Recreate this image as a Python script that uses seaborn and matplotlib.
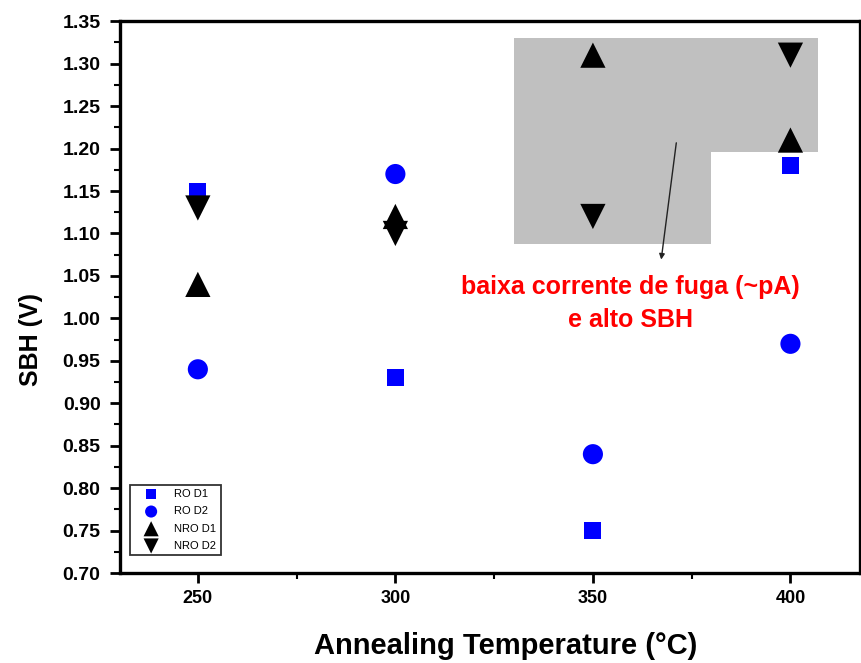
import matplotlib
matplotlib.use('Agg')
import matplotlib.pyplot as plt
from matplotlib.ticker import MultipleLocator, FormatStrFormatter
import seaborn as sns
import pandas as pd

sns.set_style('ticks')
plt.rcParams['font.family'] = ['Liberation Sans', 'DejaVu Sans']
plt.rcParams['text.color'] = 'black'
plt.rcParams['axes.labelcolor'] = 'black'
plt.rcParams['xtick.color'] = 'black'
plt.rcParams['ytick.color'] = 'black'

# dados
temperaturas = [250, 300, 350, 400]
ro_d1 = [1.15, 0.93, 0.75, 1.18]
ro_d2 = [0.94, 1.17, 0.84, 0.97]
nro_d1 = [1.04, 1.12, 1.31, 1.21]
nro_d2 = [1.13, 1.10, 1.12, 1.31]
series = ['RO D1', 'RO D2', 'NRO D1', 'NRO D2']

# regiao cinza (baixa corrente de fuga)
regiao_x = [330, 407, 407, 380, 380, 330]
regiao_y = [1.33, 1.33, 1.196, 1.196, 1.088, 1.088]

df = pd.DataFrame({
    'temp': temperaturas * 4,
    'sbh': ro_d1 + ro_d2 + nro_d1 + nro_d2,
    'serie': [s for s in series for _ in temperaturas],
})

estilos = {
    'RO D1': ('s', '#0000ff', 150),
    'RO D2': ('o', '#0000ff', 210),
    'NRO D1': ('^', 'black', 330),
    'NRO D2': ('v', 'black', 330),
}

fig = plt.figure(figsize=(8.61, 6.63), dpi=100)
ax = fig.add_axes([0.1394, 0.1357, 0.8594, 0.8323])

ax.fill(regiao_x, regiao_y, color='#c0c0c0', lw=0, zorder=1)

for s in series:
    m, c, tam = estilos[s]
    sns.scatterplot(data=df[df['serie'] == s], x='temp', y='sbh', marker=m,
                    color=c, s=tam, edgecolor='none', ax=ax, zorder=3, label=s)

ax.annotate('', xy=(367.2, 1.066), xytext=(371.2, 1.21),
            arrowprops=dict(arrowstyle='-|>', color='#222222', lw=1.0,
                            mutation_scale=8), zorder=4)
ax.text(359.5, 1.0375, 'baixa corrente de fuga (~pA)', color='red', fontsize=18,
        fontweight='bold', ha='center', va='center')
ax.text(359.5, 0.9975, 'e alto SBH', color='red', fontsize=18,
        fontweight='bold', ha='center', va='center')

ax.set_xlim(230.3, 417.6)
ax.set_ylim(0.70, 1.35)
ax.xaxis.set_major_locator(MultipleLocator(50))
ax.xaxis.set_minor_locator(MultipleLocator(25))
ax.yaxis.set_major_locator(MultipleLocator(0.05))
ax.yaxis.set_minor_locator(MultipleLocator(0.025))
ax.yaxis.set_major_formatter(FormatStrFormatter('%.2f'))

for sp in ax.spines.values():
    sp.set_linewidth(2.4)
    sp.set_color('black')
ax.tick_params(which='major', direction='out', length=7, width=2, pad=5)
ax.tick_params(which='minor', direction='out', length=4, width=1.5)
ax.tick_params(axis='y', which='major', labelsize=14, pad=7)
ax.tick_params(axis='x', which='major', labelsize=13)
for lab in ax.get_xticklabels() + ax.get_yticklabels():
    lab.set_fontweight('bold')

ax.set_xlabel('Annealing Temperature (°C)', fontsize=21, fontweight='bold')
ax.set_ylabel('SBH (V)', fontsize=18, fontweight='bold')
ax.xaxis.set_label_coords(0.521, -0.107)
ax.yaxis.set_label_coords(-0.104, 0.424)

leg = ax.legend(loc='lower left', bbox_to_anchor=(0.006, 0.022), fontsize=8,
                markerscale=0.6, frameon=True, fancybox=False, handletextpad=0.6,
                borderpad=0.4, labelspacing=0.65, handlelength=3.0)
leg.get_frame().set_edgecolor('black')
leg.get_frame().set_linewidth(1.3)

fig.savefig('out.png', dpi=100)
